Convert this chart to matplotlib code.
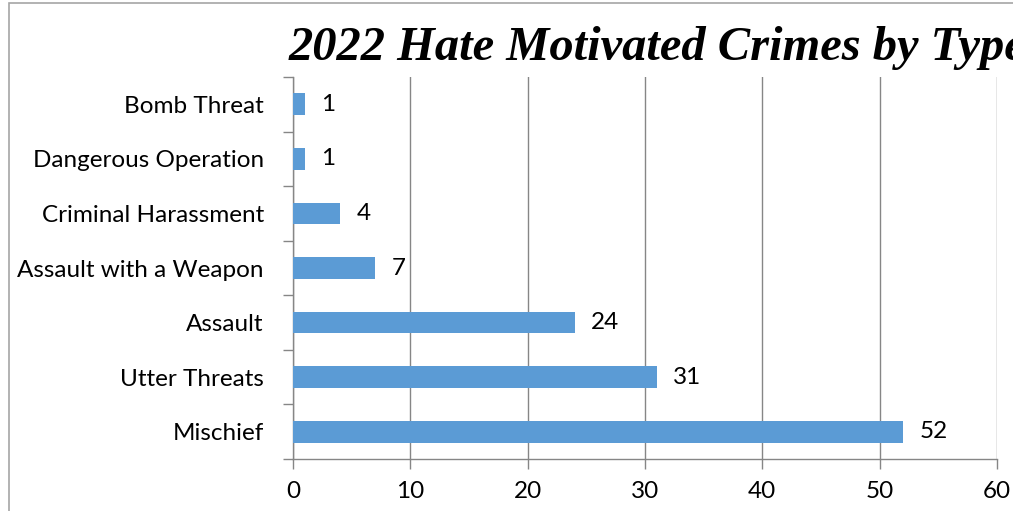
import matplotlib
matplotlib.use("Agg")
import matplotlib.pyplot as plt
from matplotlib.patches import Rectangle

# data, top to bottom as in the chart
categories = ["Bomb Threat", "Dangerous Operation", "Criminal Harassment",
              "Assault with a Weapon", "Assault", "Utter Threats", "Mischief"]
counts = [1, 1, 4, 7, 24, 31, 52]
xticks = [0, 10, 20, 30, 40, 50, 60]

W, H = 1013, 511
fig = plt.figure(figsize=(W / 100, H / 100), dpi=100)
fig.patch.set_facecolor("white")

# outer chart border (only left/top visible in the crop)
fig.add_artist(Rectangle((9 / W, -0.1), 1.2, 1 - 3 / H + 0.1, transform=fig.transFigure,
                         fill=False, edgecolor="#a6a6a6", linewidth=1.2))

ax = fig.add_axes([293 / W, 1 - 459 / H, (997 - 293) / W, (459 - 77) / H])
ypos = list(range(len(categories)))
ax.barh(ypos, counts, height=0.4, color="#5B9BD5", zorder=3)
ax.set_ylim(len(categories) - 0.5, -0.5)
ax.set_xlim(0, 60)

label_font = "Lato"
fs = 17.5
for y, v in zip(ypos, counts):
    ax.annotate(str(v), (v, y), xytext=(12, 0), textcoords="offset points",
                va="center", ha="left", fontsize=fs, family=label_font)

ax.set_xticks(xticks)
ax.set_xticklabels([str(t) for t in xticks], fontsize=fs, family=label_font)
ax.set_yticks([i - 0.5 for i in range(len(categories) + 1)])
ax.set_yticklabels([])
ax.set_yticks(ypos, minor=True)
ax.set_yticklabels(categories, minor=True, fontsize=fs, family=label_font)
ax.tick_params(axis="y", which="major", length=7, color="#868686", width=1)
ax.tick_params(axis="y", which="minor", length=0, pad=21)
ax.tick_params(axis="x", length=7, color="#868686", width=1, pad=9)

ax.grid(axis="x", color="#868686", linewidth=1, zorder=0)
for s in ["top", "right"]:
    ax.spines[s].set_visible(False)
for s in ["left", "bottom"]:
    ax.spines[s].set_color("#868686")
    ax.spines[s].set_linewidth(1)

# title is cut off at the right edge in the original image
fig.text(289 / W, 1 - 60 / H, "2022 Hate Motivated Crimes by Type",
         family="Liberation Serif", fontweight="bold", fontstyle="italic",
         fontsize=34.9, ha="left", va="baseline")

fig.savefig("out.png", dpi=100)
